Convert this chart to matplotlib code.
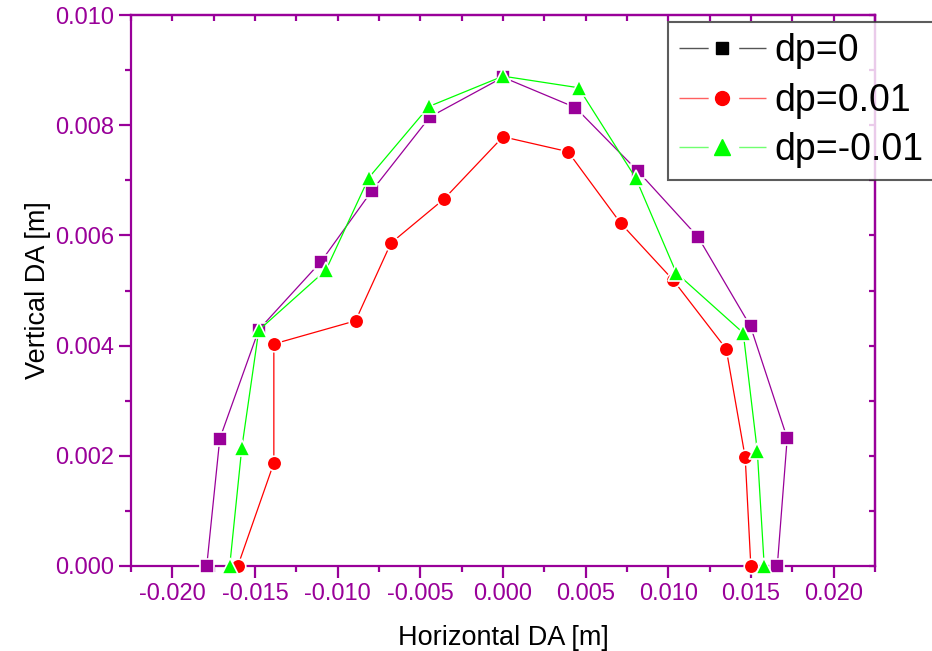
import matplotlib
matplotlib.use("Agg")
import matplotlib.pyplot as plt
from matplotlib.lines import Line2D
from matplotlib.legend_handler import HandlerTuple
from matplotlib.ticker import MultipleLocator, FormatStrFormatter

# dynamic aperture points
x_dp0 = [-0.01792, -0.01713, -0.01477, -0.01102, -0.00793, -0.00442, 0.0,
         0.00438, 0.00818, 0.01180, 0.01497, 0.01719, 0.01659]
y_dp0 = [0.0, 0.00231, 0.00429, 0.00552, 0.00681, 0.00815, 0.00887,
         0.00832, 0.00716, 0.00597, 0.00435, 0.00232, 0.0]

x_dp1 = [-0.01604, -0.01386, -0.01386, -0.00892, -0.00678, -0.00357, 0.0,
         0.00393, 0.00712, 0.01029, 0.01350, 0.01465, 0.01499]
y_dp1 = [0.0, 0.00187, 0.00403, 0.00445, 0.00586, 0.00666, 0.00779,
         0.00752, 0.00622, 0.00519, 0.00394, 0.00197, 0.0]

x_dpm1 = [-0.01653, -0.01580, -0.01477, -0.01071, -0.00811, -0.00448, 0.0,
          0.00457, 0.00803, 0.01048, 0.01453, 0.01538, 0.01580]
y_dpm1 = [0.0, 0.00214, 0.00428, 0.00537, 0.00705, 0.00834, 0.00889,
          0.00868, 0.00704, 0.00532, 0.00423, 0.00209, 0.0]

labels = ["dp=0", "dp=0.01", "dp=-0.01"]

PURPLE = "#990099"
RED = "#ff0000"
GREEN = "#00ff00"

plt.rcParams["font.family"] = ["Liberation Sans", "DejaVu Sans"]

fig = plt.figure(figsize=(9.32, 6.51), dpi=100)
ax = fig.add_axes([131 / 932, 1 - 566 / 651, 744 / 932, 551 / 651])

ax.plot(x_dp0, y_dp0, color=PURPLE, lw=0.9, marker="s", ms=9.5,
        mfc=PURPLE, mec="white", mew=1.2, clip_on=False, zorder=3)
ax.plot(x_dp1, y_dp1, color=RED, lw=0.9, marker="o", ms=10.5,
        mfc=RED, mec="white", mew=1.2, clip_on=False, zorder=3)
ax.plot(x_dpm1, y_dpm1, color=GREEN, lw=0.9, marker="^", ms=11.5,
        mfc=GREEN, mec="white", mew=1.2, clip_on=False, zorder=4)

ax.set_xlim(-0.0225, 0.0225)
ax.set_ylim(0, 0.010)
ax.xaxis.set_major_locator(MultipleLocator(0.005))
ax.xaxis.set_minor_locator(MultipleLocator(0.0025))
ax.yaxis.set_major_locator(MultipleLocator(0.002))
ax.yaxis.set_minor_locator(MultipleLocator(0.001))
ax.xaxis.set_major_formatter(FormatStrFormatter("%.3f"))
ax.yaxis.set_major_formatter(FormatStrFormatter("%.3f"))

for s in ax.spines.values():
    s.set_color(PURPLE)
    s.set_linewidth(1.6)

ax.tick_params(which="both", direction="out", color=PURPLE, width=1.6,
               labelcolor=PURPLE, labelsize=17)
ax.tick_params(which="major", length=8.5)
ax.tick_params(which="minor", length=4.5)
ax.tick_params(axis="x", which="major", pad=4)

# top and right ticks point inward
top = ax.secondary_xaxis("top")
top.xaxis.set_major_locator(MultipleLocator(0.0025))
top.tick_params(direction="in", length=4.5, width=1.6, color=PURPLE,
                labeltop=False)
right = ax.secondary_yaxis("right")
right.yaxis.set_major_locator(MultipleLocator(0.001))
right.tick_params(direction="in", length=4.5, width=1.6, color=PURPLE,
                  labelright=False)
for sa in (top, right):
    for s in sa.spines.values():
        s.set_color(PURPLE)
        s.set_linewidth(1.6)

ax.set_xlabel("Horizontal DA [m]", fontsize=19.5, labelpad=14)
ax.set_ylabel("Vertical DA [m]", fontsize=19.5, labelpad=3)

# legend entries: line broken around the marker, like the original
dash = (0, (21, 22, 30))
handles = [
    (Line2D([], [], color="#555555", lw=1, ls=dash),
     Line2D([], [], ls="none", marker="s", ms=8.5, color="black")),
    (Line2D([], [], color="#ff6060", lw=1, ls=dash),
     Line2D([], [], ls="none", marker="o", ms=10, color=RED)),
    (Line2D([], [], color="#70ff70", lw=1, ls=dash),
     Line2D([], [], ls="none", marker="^", ms=11, color=GREEN)),
]
leg = fig.legend(handles, labels, loc="upper left",
                 bbox_to_anchor=(668 / 932, 1 - 22 / 651),
                 handler_map={tuple: HandlerTuple(ndivide=1, pad=0)},
                 fontsize=27, frameon=True, fancybox=False,
                 handlelength=2.3, handletextpad=0.25, labelspacing=0.36,
                 borderpad=0.3, borderaxespad=0)
leg.get_frame().set_edgecolor("#333333")
leg.get_frame().set_linewidth(1.5)

fig.savefig("out.png", dpi=100)
